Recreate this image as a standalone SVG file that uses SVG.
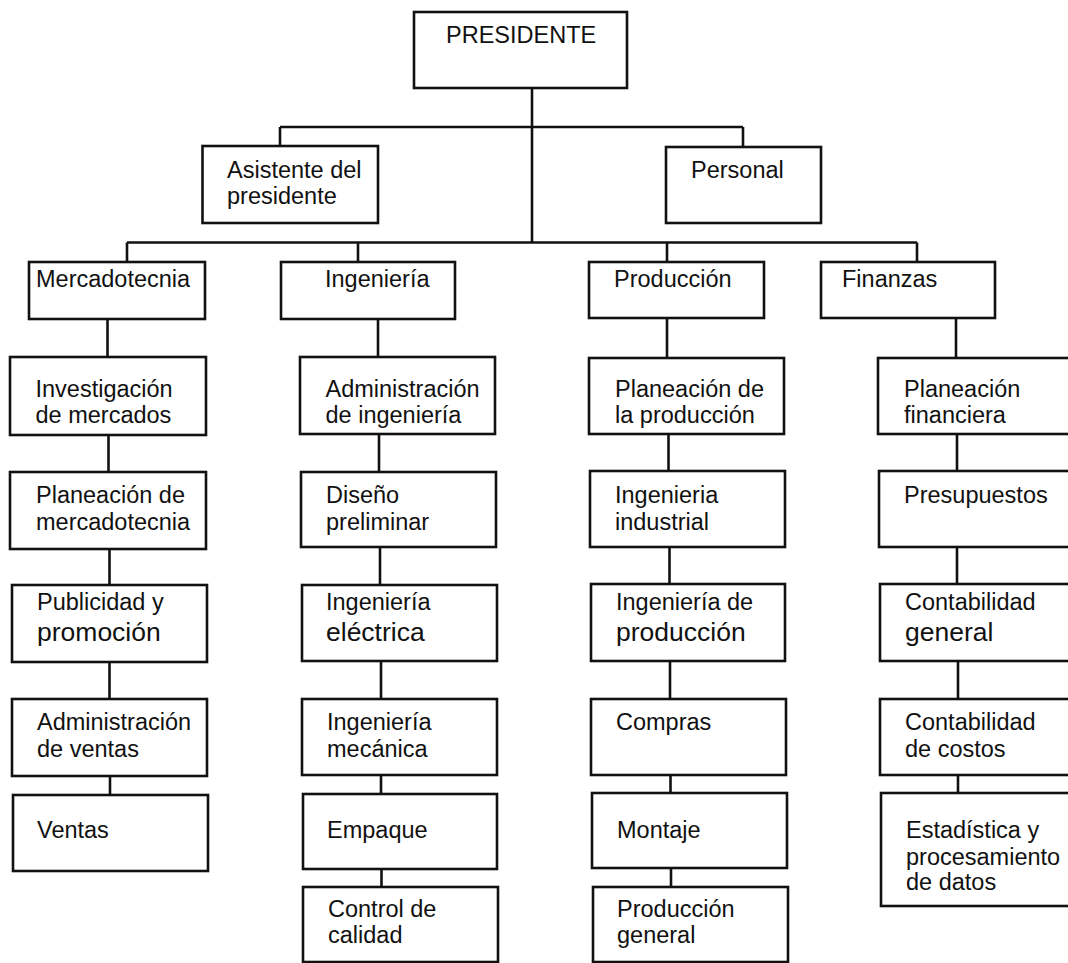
<svg xmlns="http://www.w3.org/2000/svg" width="1068" height="963" viewBox="0 0 1068 963">
<style>
  .box { fill: #fff; stroke: #111; stroke-width: 2.6; }
  .lbl { font-family: "Liberation Sans", Arial, sans-serif; font-size: 23.5px; fill: #111; }
  .big { font-size: 26.5px; }
  .conn line { stroke: #111; stroke-width: 2.6; }
</style>
<rect width="1068" height="963" fill="#fff"/>
<g id="connectors" class="conn">
  <line x1="532" y1="88" x2="532" y2="243"/>
  <line x1="280" y1="127" x2="743" y2="127"/>
  <line x1="280" y1="127" x2="280" y2="146"/>
  <line x1="743" y1="127" x2="743" y2="147"/>
  <line x1="127" y1="242.5" x2="917" y2="242.5"/>
  <line x1="127" y1="242.5" x2="127" y2="262"/>
  <line x1="358" y1="242.5" x2="358" y2="262"/>
  <line x1="667" y1="242.5" x2="667" y2="262"/>
  <line x1="917" y1="242.5" x2="917" y2="262"/>
  <line x1="107.5" y1="319" x2="107.5" y2="357"/>
  <line x1="108.5" y1="435" x2="108.5" y2="472"/>
  <line x1="109.5" y1="549" x2="109.5" y2="585"/>
  <line x1="109.5" y1="662" x2="109.5" y2="699"/>
  <line x1="110" y1="776" x2="110" y2="795"/>
  <line x1="378" y1="319" x2="378" y2="357"/>
  <line x1="379" y1="434" x2="379" y2="472"/>
  <line x1="380" y1="547" x2="380" y2="585"/>
  <line x1="381" y1="661" x2="381" y2="699"/>
  <line x1="381" y1="775" x2="381" y2="794"/>
  <line x1="381.5" y1="869" x2="381.5" y2="887"/>
  <line x1="667" y1="318" x2="667" y2="358"/>
  <line x1="668.5" y1="434" x2="668.5" y2="471"/>
  <line x1="669.5" y1="547" x2="669.5" y2="584"/>
  <line x1="670" y1="661" x2="670" y2="699"/>
  <line x1="670.5" y1="775" x2="670.5" y2="793"/>
  <line x1="671" y1="868" x2="671" y2="887"/>
  <line x1="956" y1="318" x2="956" y2="358"/>
  <line x1="957" y1="434" x2="957" y2="471"/>
  <line x1="957" y1="547" x2="957" y2="584"/>
  <line x1="958" y1="661" x2="958" y2="699"/>
  <line x1="958" y1="775" x2="958" y2="793"/>
</g>
<g id="presidente"><rect class="box" x="414" y="12" width="213" height="76"/><text class="lbl" x="446" y="43">PRESIDENTE</text></g>
<g id="asistente"><rect class="box" x="202.5" y="146" width="175.5" height="77"/><text class="lbl" x="227" y="178">Asistente del</text><text class="lbl" x="227" y="204">presidente</text></g>
<g id="personal"><rect class="box" x="666" y="147" width="155" height="76"/><text class="lbl" x="691" y="178">Personal</text></g>
<g id="mercadotecnia"><rect class="box" x="29" y="262" width="176" height="57"/><text class="lbl" x="36" y="287">Mercadotecnia</text></g>
<g id="ingenieria"><rect class="box" x="281" y="262" width="174" height="57"/><text class="lbl" x="325" y="287">Ingeniería</text></g>
<g id="produccion"><rect class="box" x="589" y="262" width="175" height="56"/><text class="lbl" x="614" y="287">Producción</text></g>
<g id="finanzas"><rect class="box" x="821" y="262" width="174" height="56"/><text class="lbl" x="842" y="287">Finanzas</text></g>

<g id="investigacion"><rect class="box" x="10" y="357" width="196" height="78"/><text class="lbl" x="35.5" y="396.5">Investigación</text><text class="lbl" x="35.5" y="423">de mercados</text></g>
<g id="planeacion-merc"><rect class="box" x="10" y="472" width="196" height="77"/><text class="lbl" x="36" y="503">Planeación de</text><text class="lbl" x="36" y="530">mercadotecnia</text></g>
<g id="publicidad"><rect class="box" x="12" y="585" width="195" height="77"/><text class="lbl" x="37" y="610">Publicidad y</text><text class="lbl big" x="37" y="641">promoción</text></g>
<g id="adm-ventas"><rect class="box" x="12" y="699" width="195" height="77"/><text class="lbl" x="37" y="730">Administración</text><text class="lbl" x="37" y="756.5">de ventas</text></g>
<g id="ventas"><rect class="box" x="13" y="795" width="195" height="76"/><text class="lbl" x="37" y="838">Ventas</text></g>

<g id="adm-ing"><rect class="box" x="300" y="357" width="195" height="77"/><text class="lbl" x="325.5" y="396.5">Administración</text><text class="lbl" x="325.5" y="423">de ingeniería</text></g>
<g id="diseno"><rect class="box" x="301" y="472" width="195" height="75"/><text class="lbl" x="326" y="503">Diseño</text><text class="lbl" x="326" y="530">preliminar</text></g>
<g id="ing-electrica"><rect class="box" x="302" y="585" width="195" height="76"/><text class="lbl" x="326" y="610">Ingeniería</text><text class="lbl big" x="326" y="641">eléctrica</text></g>
<g id="ing-mecanica"><rect class="box" x="302" y="699" width="195" height="76"/><text class="lbl" x="327" y="730">Ingeniería</text><text class="lbl" x="327" y="756.5">mecánica</text></g>
<g id="empaque"><rect class="box" x="303" y="794" width="194" height="75"/><text class="lbl" x="327" y="838">Empaque</text></g>
<g id="control-calidad"><rect class="box" x="303" y="887" width="195" height="75"/><text class="lbl" x="328" y="916.5">Control de</text><text class="lbl" x="328" y="943">calidad</text></g>

<g id="planeacion-prod"><rect class="box" x="589" y="358" width="195" height="76"/><text class="lbl" x="615" y="396.5">Planeación de</text><text class="lbl" x="615" y="423">la producción</text></g>
<g id="ing-industrial"><rect class="box" x="590" y="471" width="195" height="76"/><text class="lbl" x="615" y="503">Ingenieria</text><text class="lbl" x="615" y="530">industrial</text></g>
<g id="ing-produccion"><rect class="box" x="591" y="584" width="194" height="77"/><text class="lbl" x="616" y="610">Ingeniería de</text><text class="lbl big" x="616" y="641">producción</text></g>
<g id="compras"><rect class="box" x="591" y="699" width="195" height="76"/><text class="lbl" x="616" y="730">Compras</text></g>
<g id="montaje"><rect class="box" x="592" y="793" width="195" height="75"/><text class="lbl" x="617" y="838">Montaje</text></g>
<g id="produccion-general"><rect class="box" x="593" y="887" width="195" height="75"/><text class="lbl" x="617" y="916.5">Producción</text><text class="lbl" x="617" y="943">general</text></g>

<g id="planeacion-fin"><rect class="box" x="878" y="358" width="200" height="76"/><text class="lbl" x="904" y="396.5">Planeación</text><text class="lbl" x="904" y="423">financiera</text></g>
<g id="presupuestos"><rect class="box" x="879" y="471" width="200" height="76"/><text class="lbl" x="904" y="503">Presupuestos</text></g>
<g id="contabilidad-general"><rect class="box" x="880" y="584" width="200" height="77"/><text class="lbl" x="905" y="610">Contabilidad</text><text class="lbl big" x="905" y="641">general</text></g>
<g id="contabilidad-costos"><rect class="box" x="880" y="699" width="200" height="76"/><text class="lbl" x="905" y="730">Contabilidad</text><text class="lbl" x="905" y="756.5">de costos</text></g>
<g id="estadistica"><rect class="box" x="881" y="793" width="200" height="113"/><text class="lbl" x="906" y="838">Estadística y</text><text class="lbl" x="906" y="865">procesamiento</text><text class="lbl" x="906" y="890">de datos</text></g>
</svg>
